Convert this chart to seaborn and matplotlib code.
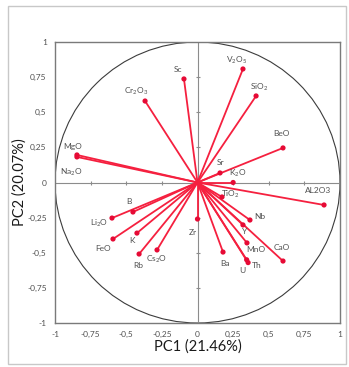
import numpy as np
import pandas as pd
import matplotlib
matplotlib.use("Agg")
import matplotlib.pyplot as plt
from matplotlib.patches import Circle, Rectangle
import seaborn as sns

# Loadings of each variable on the first two principal components
variables = ["MgO", "Na$_2$O", "Cr$_2$O$_3$", "Sc", "V$_2$O$_5$", "SiO$_2$", "BeO",
             "Sr", "K$_2$O", "TiO$_2$", "AL2O3", "Nb", "Y", "MnO", "CaO", "Th",
             "U", "Ba", "Zr", "B", "Li$_2$O", "FeO", "K", "Rb", "Cs$_2$O"]
pc1 = [-0.846, -0.846, -0.368, -0.095, 0.319, 0.411, 0.600,
       0.158, 0.250, 0.172, 0.888, 0.368, 0.319, 0.347, 0.600, 0.355,
       0.345, 0.179, 0.000, -0.453, -0.600, -0.593, -0.425, -0.410, -0.284]
pc2 = [0.196, 0.182, 0.580, 0.737, 0.808, 0.616, 0.246,
       0.068, 0.000, -0.103, -0.160, -0.267, -0.302, -0.430, -0.559, -0.570,
       -0.550, -0.495, -0.260, -0.210, -0.253, -0.402, -0.360, -0.509, -0.480]

tick_values = [-1, -0.75, -0.5, -0.25, 0, 0.25, 0.5, 0.75, 1]
tick_labels = ["-1", "-0,75", "-0,5", "-0,25", "0", "0,25", "0,5", "0,75", "1"]

# Label offsets in pixels (dx right, dy down) relative to each arrow tip
label_offsets = {
    "MgO": (-4, -8), "Na$_2$O": (-6, 15), "Cr$_2$O$_3$": (-9, -10), "Sc": (-6, -9),
    "V$_2$O$_5$": (-6, -9), "SiO$_2$": (3, -9), "BeO": (-2, -14), "Sr": (1, -10),
    "K$_2$O": (5, -9), "TiO$_2$": (8, -3), "AL2O3": (-6, -14), "Nb": (10, -4),
    "Y": (2, 7), "MnO": (9, 7), "CaO": (-1, -14), "Th": (9, 3), "U": (-4, 11),
    "Ba": (2, 11), "Zr": (-5, 13), "B": (-4, -11), "Li$_2$O": (-13, 5),
    "FeO": (-10, 10), "K": (-5, 7), "Rb": (-1, 11), "Cs$_2$O": (0, 9),
}

df = pd.DataFrame({"variable": variables, "PC1": pc1, "PC2": pc2})

sns.set_theme(style="white")
plt.rcParams["font.family"] = ["Lato", "DejaVu Sans"]
plt.rcParams["mathtext.fontset"] = "custom"
plt.rcParams["mathtext.rm"] = "Lato"
plt.rcParams["mathtext.it"] = "Lato"

fig = plt.figure(figsize=(3.49, 3.67), dpi=100)
fig.patch.set_facecolor("white")
fig.patches.append(Rectangle((8 / 349, 1 - 364 / 367), 338 / 349, 358 / 367,
                             transform=fig.transFigure, fill=False,
                             edgecolor="#c8c8c8", linewidth=1.0))

ax = fig.add_axes([55 / 349, 1 - 323 / 367, 285 / 349, 281 / 367])
ax.set_xlim(-1, 1)
ax.set_ylim(-1, 1)

line_col = "#f5203f"
point_col = "#e60a35"

# Correlation circle and central axes
ax.add_patch(Circle((0, 0), 1, fill=False, edgecolor="#3c3c3c", linewidth=0.8, zorder=1))
ax.axhline(0, color="#8c8c8c", linewidth=0.8, zorder=1)
ax.axvline(0, color="#8c8c8c", linewidth=0.8, zorder=1)
inner = [t for t in tick_values if abs(t) < 1 and t != 0]
ax.plot(inner, [0] * len(inner), linestyle="none", marker="|", markersize=3,
        color="#8c8c8c", markeredgewidth=0.8, zorder=1)
ax.plot([0] * len(inner), inner, linestyle="none", marker="_", markersize=3,
        color="#8c8c8c", markeredgewidth=0.8, zorder=1)

# Loading vectors
for x, y in zip(df["PC1"], df["PC2"]):
    ax.plot([0, x], [0, y], color=line_col, linewidth=1.3, zorder=2,
            solid_capstyle="butt")
sns.scatterplot(data=df, x="PC1", y="PC2", ax=ax, color=point_col, s=14,
                edgecolor="none", zorder=3, legend=False)

for name, x, y in zip(df["variable"], df["PC1"], df["PC2"]):
    dx, dy = label_offsets[name]
    ax.annotate(name, (x, y), xytext=(dx * 0.72, -dy * 0.72), textcoords="offset points",
                ha="center", va="center", fontsize=6, color="#505050", zorder=4)

ax.set_xticks(tick_values)
ax.set_xticklabels(tick_labels)
ax.set_yticks(tick_values)
ax.set_yticklabels(tick_labels)
ax.tick_params(axis="both", length=0, labelsize=6, colors="#505050", pad=6)
for s in ax.spines.values():
    s.set_color("#7a7a7a")
    s.set_linewidth(1.0)

ax.set_xlabel("PC1 (21.46%)", fontsize=10.5, color="#1a1a1a", labelpad=1)
ax.set_ylabel("PC2 (20.07%)", fontsize=10.5, color="#1a1a1a", labelpad=0)

fig.savefig("out.png", dpi=100, facecolor="white")
